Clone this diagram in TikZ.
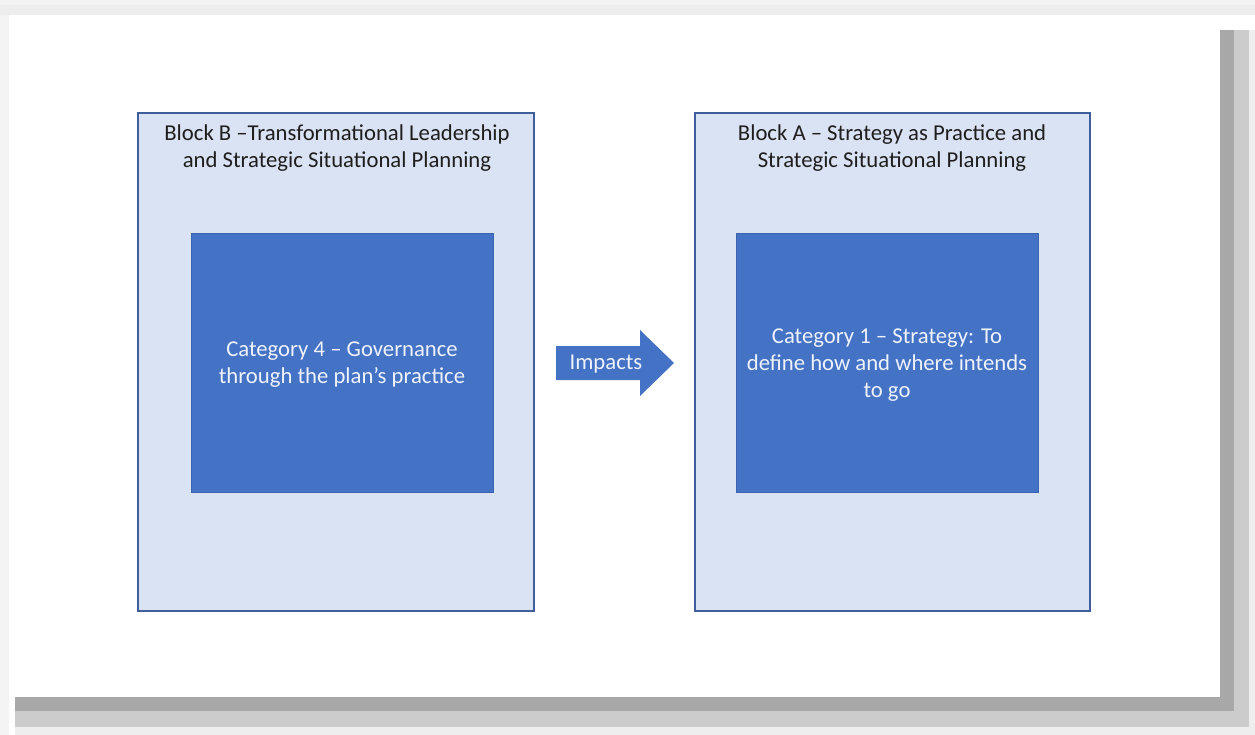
\documentclass[tikz,border=0pt]{standalone}
\usepackage{fontspec}
\setmainfont{Carlito}
\definecolor{outerfill}{HTML}{DAE3F3}
\definecolor{outerdraw}{HTML}{3F5F9C}
\definecolor{innerfill}{HTML}{4472C4}
\definecolor{innerdraw}{HTML}{3A64B0}
\definecolor{titletext}{HTML}{1E1E1E}
\definecolor{innertext}{HTML}{EEF2FA}
\definecolor{sh1}{HTML}{A8A8A8}
\definecolor{sh2}{HTML}{CCCCCC}
\definecolor{sh3}{HTML}{EEEEEE}
\definecolor{topstrip}{HTML}{EDEDED}
\tikzset{
  outerbox/.style={draw=outerdraw, fill=outerfill, line width=1.2pt},
  innerbox/.style={draw=innerdraw, fill=innerfill, line width=0.8pt},
  titlelbl/.style={text=titletext, font=\fontsize{22.7}{27}\selectfont, align=center, inner sep=0pt},
  innerlbl/.style={text=innertext, font=\fontsize{22.7}{27}\selectfont, align=center, inner sep=0pt},
}
\begin{document}
\begin{tikzpicture}[x=1pt,y=1pt]
\useasboundingbox (0,0) rectangle (1255,-735);
% background strips
\fill[white] (0,0) rectangle (1255,-735);
\fill[topstrip!70] (0,0) rectangle (1255,-5);
\fill[topstrip] (0,-5) rectangle (1255,-15);
\fill[topstrip!60] (0,-15) rectangle (9,-735);
% shadow
\fill[sh3] (1220,-30) rectangle (1255,-735);
\fill[sh3] (15,-697) rectangle (1255,-735);
\fill[sh2] (1220,-30) rectangle (1249,-727);
\fill[sh2] (15,-697) rectangle (1249,-727);
\fill[sh1] (1220,-30) rectangle (1234,-711);
\fill[sh1] (15,-697) rectangle (1234,-711);
% page
\fill[white] (9,-15) rectangle (1220,-697);
% blocks
\path[outerbox] (138,-113) rectangle (534,-611);
\path[outerbox] (695,-113) rectangle (1090,-611);
\path[innerbox] (191,-233) rectangle (493,-492);
\path[innerbox] (736,-233) rectangle (1038,-492);
\node[titlelbl] (tb) at (337,-148) {Block B –Transformational Leadership\\and Strategic Situational Planning};
\node[titlelbl] (ta) at (892,-148) {Block A – Strategy as Practice and\\Strategic Situational Planning};
\node[innerlbl] (cb) at (342,-365) {Category 4 – Governance\\through the plan’s practice};
\node[innerlbl] (ca) at (887,-365) {Category 1 – Strategy: To\\define how and where intends\\to go};
% arrow
\fill[innerfill] (556,-346) -- (640,-346) -- (640,-330) -- (674,-363) -- (640,-396) -- (640,-380) -- (556,-380) -- cycle;
\node[innerlbl] (imp) at (606,-364) {Impacts};
\end{tikzpicture}
\end{document}
